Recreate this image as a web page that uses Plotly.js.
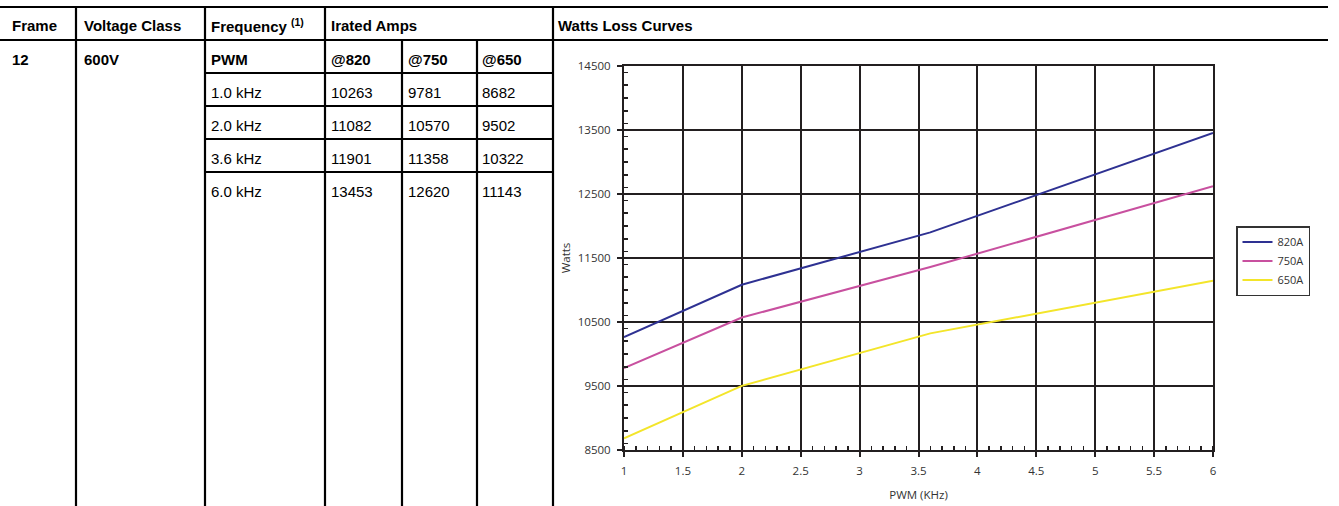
<!DOCTYPE html>
<html>
<head>
<meta charset="utf-8">
<script src="https://cdn.plot.ly/plotly-3.0.1.min.js"></script>
<style>
  html, body { margin: 0; padding: 0; background: #fff; }
  #chart { width: 1339px; height: 506px; }
</style>
</head>
<body>
<div id="chart"></div>
<script>
// Frame 12, 600V drive: watts loss vs PWM carrier frequency
const frameLabel = '12';
const voltageClass = '600V';
const freqLabels = ['1.0 kHz', '2.0 kHz', '3.6 kHz', '6.0 kHz'];
const pwmKHz = [1.0, 2.0, 3.6, 6.0];
const ampHeaders = ['@820', '@750', '@650'];
const seriesNames = ['820A', '750A', '650A'];
const watts820 = [10263, 11082, 11901, 13453];
const watts750 = [9781, 10570, 11358, 12620];
const watts650 = [8682, 9502, 10322, 11143];
const headerLabels = ['Frame', 'Voltage Class', 'Frequency <sup>(1)</sup>', 'Irated Amps', 'Watts Loss Curves'];

const W = 1339, H = 506;
const px = v => v / W;
const py = v => 1 - v / H;

const ink = '#231f20';
const tableFont = 'Liberation Sans, Arial, sans-serif';
const chartFont = 'Open Sans, Noto Sans, sans-serif';
const lineColors = ['#2e3192', '#c8509f', '#f3e52a'];

// ---- table rules ----
const shapes = [];
function rule(x0, y0, x1, y1) {
  shapes.push({
    type: 'line', xref: 'paper', yref: 'paper',
    x0: px(x0), y0: py(y0), x1: px(x1), y1: py(y1),
    line: { color: '#000', width: 2.2 }
  });
}
rule(0, 7, 1328, 7);
rule(0, 40, 1328, 40);
[73, 106, 139, 172].forEach(y => rule(205, y, 553, y));
[76, 205, 325, 553].forEach(x => rule(x, 6, x, H));
[402, 477].forEach(x => rule(x, 40, x, H));

// ---- table text ----
const annotations = [];
function cell(x, y, text, bold) {
  annotations.push({
    xref: 'paper', yref: 'paper', x: px(x), y: py(y),
    xanchor: 'left', yanchor: 'middle', showarrow: false,
    text: bold ? '<b>' + text + '</b>' : text,
    font: { family: tableFont, size: 15, color: '#000' }
  });
}
const headerX = [10, 82, 209, 329, 556];
headerLabels.forEach((t, i) => cell(headerX[i], 25, t, true));
cell(10, 60, frameLabel, true);
cell(82, 60, voltageClass, true);
cell(209, 60, 'PWM', true);
const ampX = [329, 406, 480];
ampHeaders.forEach((t, i) => cell(ampX[i], 60, t, true));
const rowY = [92, 125, 158, 191];
const series = [watts820, watts750, watts650];
freqLabels.forEach((f, r) => {
  cell(209, rowY[r], f, false);
  series.forEach((s, c) => cell(ampX[c], rowY[r], String(s[r]), false));
});

// ---- curves ----
const traces = series.map((s, i) => ({
  type: 'scatter', mode: 'lines',
  x: pwmKHz, y: s, name: seriesNames[i],
  line: { color: lineColors[i], width: 2 }
}));

const axisCommon = {
  showgrid: true, gridcolor: ink, gridwidth: 2,
  showline: true, linecolor: ink, linewidth: 2, mirror: true,
  ticks: 'outside', ticklen: 5, tickwidth: 2, tickcolor: ink,
  zeroline: false, fixedrange: true,
  tickfont: { family: chartFont, size: 11.5, color: '#333' }
};

const layout = {
  width: W, height: H,
  margin: { l: 0, r: 0, t: 0, b: 0 },
  paper_bgcolor: '#fff', plot_bgcolor: '#fff',
  showlegend: true,
  xaxis: Object.assign({}, axisCommon, {
    domain: [px(624), px(1213)],
    range: [1, 6], tick0: 1, dtick: 0.5,
    ticklabelstandoff: 4,
    minor: { dtick: 0.1, ticks: 'inside', ticklen: 4, tickwidth: 1.5, tickcolor: ink, showgrid: false },
    title: { text: 'PWM (KHz)', font: { family: chartFont, size: 11.5, color: '#333' }, standoff: 14 }
  }),
  yaxis: Object.assign({}, axisCommon, {
    domain: [py(450), py(66)],
    range: [8500, 14500], tick0: 8500, dtick: 1000,
    tickformat: 'd',
    ticklabelstandoff: 4,
    minor: { dtick: 200, ticks: 'inside', ticklen: 4, tickwidth: 1.5, tickcolor: ink, showgrid: false },
    title: { text: 'Watts', font: { family: chartFont, size: 11.5, color: '#333' }, standoff: 5 }
  }),
  legend: {
    x: px(1236), y: py(226), xanchor: 'left', yanchor: 'top',
    bordercolor: '#333', borderwidth: 1.5, bgcolor: '#fff',
    font: { family: chartFont, size: 11, color: '#333' },
    itemwidth: 30
  },
  shapes: shapes,
  annotations: annotations
};

Plotly.newPlot('chart', traces, layout, { displayModeBar: false, staticPlot: true });
</script>
</body>
</html>
